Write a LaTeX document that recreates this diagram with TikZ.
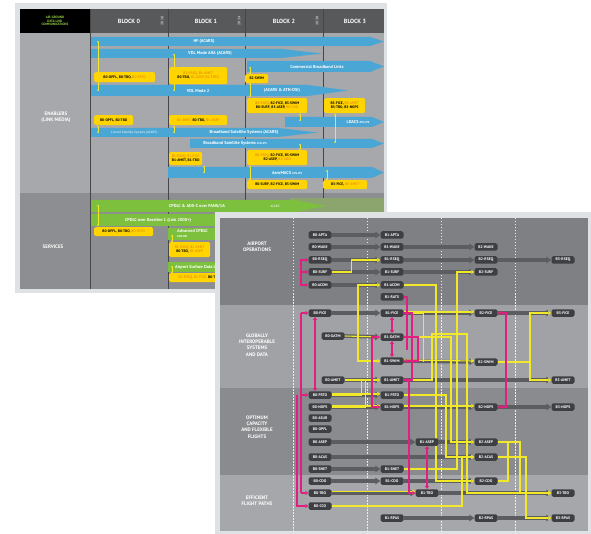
\documentclass[tikz,border=0pt]{standalone}
\usepackage{fontspec}
\setmainfont{PT Sans}
\usetikzlibrary{arrows.meta}
\pgfdeclarelayer{back}
\pgfdeclarelayer{mid}
\pgfdeclarelayer{lines}
\pgfsetlayers{back,mid,lines,main}
\definecolor{frameA}{RGB}{222,226,229}
\definecolor{enab}{RGB}{166,168,171}
\definecolor{serv}{RGB}{140,142,145}
\definecolor{hdr}{RGB}{88,89,91}
\definecolor{divc}{RGB}{70,70,72}
\definecolor{bblue}{RGB}{74,166,212}
\definecolor{bgreen}{RGB}{125,192,62}
\definecolor{fgreen}{RGB}{140,165,110}
\definecolor{ybox}{RGB}{255,212,0}
\definecolor{yorange}{RGB}{222,120,20}
\definecolor{rowA}{RGB}{126,128,131}
\definecolor{rowB}{RGB}{160,162,165}
\definecolor{rowC}{RGB}{137,139,142}
\definecolor{rowD}{RGB}{165,167,170}
\definecolor{ndc}{RGB}{62,63,66}
\definecolor{barc}{RGB}{92,93,96}
\definecolor{ylw}{RGB}{240,232,40}
\definecolor{mag}{RGB}{226,30,128}
\definecolor{hgreen}{RGB}{150,210,70}
\newcommand\myband[6]{\fill[#5] (#1,#2) -- ({#3-#6},#2) -- (#3,{(#2+#4)/2}) -- ({#3-#6},#4) -- (#1,#4) -- cycle;}
\newcommand\oc[1]{{\color{yorange}#1}}
\begin{document}
\begin{tikzpicture}[x=1pt,y=-1pt,
 bl/.style={text=white,font=\fontsize{4.3}{5}\selectfont\bfseries,inner sep=0pt},
 bls/.style={text=white,font=\fontsize{3.2}{4}\selectfont,inner sep=0pt},
 ybx/.style={fill=ybox,rounded corners=1.5pt,inner sep=1pt,font=\fontsize{3.6}{4.3}\selectfont,align=center,anchor=north west},
 hd/.style={text=white,font=\fontsize{6}{7}\selectfont\bfseries},
 rl/.style={text=white,font=\fontsize{5}{6.2}\selectfont\bfseries,align=center},
 nd/.style={fill=ndc,rounded corners=1.6pt,text=white,font=\fontsize{3.8}{4.2}\selectfont\bfseries,minimum width=23pt,minimum height=7.5pt,inner sep=0pt},
 gbar/.style={draw=barc,line width=3.6pt,-{Triangle[length=5pt,width=6.5pt]}},
 yl/.style={draw=ylw,line width=1.1pt,-{Triangle[length=3pt,width=4pt]}},
 ylB/.style={draw=ylw,line width=1.1pt,{Triangle[length=3pt,width=4pt]}-{Triangle[length=3pt,width=4pt]}},
 yl0/.style={draw=ylw,line width=1.1pt},
 mg/.style={draw=mag,line width=1.1pt},
 mgA/.style={mg,-{Triangle[length=3pt,width=4pt]}},
 mgB/.style={mg,{Triangle[length=3pt,width=4pt]}-{Triangle[length=3pt,width=4pt]}},
 tl/.style={draw=ylw,line width=0.6pt,{Circle[length=1.6pt]}-{Circle[length=1.6pt]}},
 dl/.style={draw=white!85!gray,line width=0.4pt,dash pattern=on 1.5pt off 1.5pt}]
\useasboundingbox (0,0) rectangle (591,534);
\begin{pgfonlayer}{back}
\fill[white] (0,0) rectangle (591,534);
% ---------- top panel ----------
\fill[frameA] (15,3) rectangle (387,293);
\fill[enab] (20,33) rectangle (384,193);
\fill[serv] (20,193) rectangle (384,289);
\fill[hdr] (90,9) rectangle (384,33);
\fill[black] (20,9) rectangle (90,33);
\foreach \x in {90,168,245,323}{\draw[divc,line width=0.8pt] (\x,9) -- (\x,289);}
\node[text=hgreen,font=\fontsize{3.3}{3.8}\selectfont\bfseries,align=center] (hcell) at (55,21) {AIR-GROUND\\DATA LINK\\COMMUNICATIONS};
\node[hd] (h0) at (129,21) {BLOCK 0};
\node[hd] (h1) at (206,21) {BLOCK 1};
\node[hd] (h2) at (284,21) {BLOCK 2};
\node[hd] (h3) at (355,21) {BLOCK 3};
\node[rotate=90,text=white!60!gray,font=\fontsize{3.6}{4}\selectfont\bfseries] (yr1) at (162,21) {2018};
\node[rotate=90,text=white!60!gray,font=\fontsize{3.6}{4}\selectfont\bfseries] (yr2) at (239,21) {2024};
\node[rotate=90,text=white!60!gray,font=\fontsize{3.6}{4}\selectfont\bfseries] (yr3) at (317,21) {2030};
\node[rl] (lenab) at (56,117) {ENABLERS\\(LINK MEDIA)};
\node[rl] (lserv) at (53,247) {SERVICES};
% blue bands
\myband{91}{37}{384}{46}{bblue}{14}
\myband{91}{49}{322}{58}{bblue}{40}
\myband{247}{61}{384}{72}{bblue}{14}
\myband{91}{85}{348}{96}{bblue}{40}
\myband{285}{117}{384}{127}{bblue}{12}
\myband{91}{128}{318}{137}{bblue}{40}
\myband{190}{139}{384}{148}{bblue}{12}
\myband{168}{167}{384}{178}{bblue}{12}
\node[bl] (t1) at (204,41.5) {HF (ACARS)};
\node[bl] (t2) at (210,53.5) {VDL Mode A0A (ACARS)};
\node[bl] (t3) at (317,66.5) {Commercial Broadband Links};
\node[bl] (t4) at (198,90.5) {VDL Mode 2};
\node[bl] (t5) at (282,90.5) {(ACARS \& ATN-OSI)};
\node[bl] (t6) at (358,122) {LDACS \fontsize{2.8}{3}\selectfont ATN-IPS};
\node[bls] (t7) at (134,132.5) {Current Satellite Systems (ACARS)};
\node[bl] (t8) at (244,132.5) {Broadband Satellite Systems (ACARS)};
\node[bl] (t9) at (235,143.5) {Broadband Satellite Systems \fontsize{2.8}{3}\selectfont ATN-IPS};
\node[bl] (t10) at (287,172.5) {AeroMACS \fontsize{2.8}{3}\selectfont ATN-IPS};
% green bands
\fill[fgreen] (290,198) -- (384,198) -- (384,215) -- (290,215) -- cycle;
\myband{91}{200}{325}{212}{bgreen}{30}
\myband{91}{214}{240}{226}{bgreen}{10}
\myband{168}{228}{240}{240}{bgreen}{10}
\myband{168}{262}{240}{272}{bgreen}{10}
\node[bl] (g1) at (197,206) {CPDLC \& ADS-C over FANS/1A};
\node[bls] (g1b) at (275,206) {ACARS};
\node[bl] (g2) at (158,220) {CPDLC over Baseline 1 (Link 2000+)};
\node[bl,anchor=north west,align=left] (g3) at (177,229.5) {Advanced CPDLC\\[-0.5pt]{\fontsize{2.8}{3}\selectfont ATN-OSI}};
\node[bl,anchor=west] (g4) at (175,267) {Airport Surface Data Links};
% small yellow links
\draw[tl] (98,41) -- (98,91);
\draw[tl] (174,54) -- (174,91);
\draw[tl] (250,67) -- (250,74);
\draw[tl] (250,83) -- (250,97);
\draw[tl] (98,126) -- (98,133);
\draw[tl] (174,126) -- (174,133);
\draw[tl] (300,114) -- (300,121);
\draw[tl] (335,114) -- (335,143);
\draw[tl] (300,144) -- (300,150);
\draw[tl] (204,166) -- (204,173);
\draw[tl] (250,166) -- (250,180);
\draw[tl] (327,170) -- (327,180);
\draw[tl] (98,205) -- (98,226);
\draw[tl] (172,235) -- (172,242);
\draw[tl] (172,266) -- (172,273);
% yellow boxes
\node[ybx,minimum width=61pt,minimum height=10pt] (ya) at (94,72) {\textbf{B0-OPFL, B0-TBO,} \oc{B0-FRTO}};
\node[ybx,minimum width=58pt,minimum height=17pt] (yb) at (169,67) {\oc{B1-RSEQ, B1-AMET}\\\textbf{B0-TBO,} \oc{B1-ASEP, B1-FRTO}};
\node[ybx,minimum width=23pt,minimum height=9pt] (yc) at (245,74) {\textbf{B2-SWIM}};
\node[ybx,minimum width=39pt,minimum height=10pt] (yd) at (94,115) {\textbf{B0-OPFL, B0-TBO}};
\node[ybx,minimum width=58pt,minimum height=10pt] (ye) at (169,115) {\oc{B1-AMET,} \textbf{B0-TBO,} \oc{B1-ASEP}};
\node[ybx,minimum width=60pt,minimum height=15pt] (yf) at (247,98) {\oc{B0-RSEQ,} \textbf{B2-FICE, B3-SWIM}\\\textbf{B0-SURF, B3-ASEP,} \oc{B0-CDO}};
\node[ybx,minimum width=41pt,minimum height=15pt] (yg) at (324,98) {\textbf{B3-FICE,} \oc{B3-AMET}\\\textbf{B3-TBO, B3-NOPS}};
\node[ybx,minimum width=33pt,minimum height=13pt] (yh) at (169,152) {\oc{B1-RSEQ, B1-FICE}\\\textbf{B1-AMET, B1-TBO}};
\node[ybx,minimum width=60pt,minimum height=15pt] (yi) at (247,150) {\oc{B0-RSEQ,} \textbf{B2-FICE, B3-SWIM}\\\textbf{B2-ASEP,} \oc{B3-CDO}};
\node[ybx,minimum width=60pt,minimum height=9pt] (yj) at (247,180) {\textbf{B0-SURF, B2-FICE, B3-SWIM}};
\node[ybx,minimum width=44pt,minimum height=9pt] (yk) at (323,180) {\textbf{B3-FICE,} \oc{B3-AMET}};
\node[ybx,minimum width=59pt,minimum height=9pt] (yl1) at (94,227) {\textbf{B0-OPFL, B0-TBO,} \oc{B0-FRTO}};
\node[ybx,minimum width=41pt,minimum height=15pt] (ym) at (169,242) {\oc{B1-RSEQ, B1-AMET}\\\textbf{B0-TBO,} \oc{B1-ASEP}};
\node[ybx,minimum width=60pt,minimum height=9pt] (yn) at (169,273) {\oc{B1-RSEQ, B1-FICE,} \textbf{B0-TBO}};
% ---------- bottom panel ----------
\fill[frameA] (215,212) rectangle (591,534);
\fill[rowA] (220,218) rectangle (588,305);
\fill[rowB] (220,305) rectangle (588,388);
\fill[rowC] (220,388) rectangle (588,475);
\fill[rowD] (220,475) rectangle (588,531);
\foreach \x in {293,367,441,515}{\draw[dl] (\x,218) -- (\x,531);}
\node[rl] (r1) at (257,247) {AIRPORT\\OPERATIONS};
\node[rl] (r2) at (257,345) {GLOBALLY\\INTEROPERABLE\\SYSTEMS\\AND DATA};
\node[rl] (r3) at (257,427) {OPTIMUM\\CAPACITY\\AND FLEXIBLE\\FLIGHTS};
\node[rl] (r4) at (257,501) {EFFICIENT\\FLIGHT PATHS};
\end{pgfonlayer}
% ---------- nodes ----------
\node[nd] (b0apta) at (320,235) {B0-APTA};
\node[nd] (b0wake) at (320,247) {B0-WAKE};
\node[nd] (b0rseq) at (320,260) {B0-RSEQ};
\node[nd] (b0surf) at (320,272) {B0-SURF};
\node[nd] (b0acdm) at (320,285) {B0-ACDM};
\node[nd] (b0fice) at (320,313) {B0-FICE};
\node[nd] (b0datm) at (333,336) {B0-DATM};
\node[nd] (b0amet) at (333,380) {B0-AMET};
\node[nd] (b0frto) at (320,395) {B0-FRTO};
\node[nd] (b0nops) at (320,407) {B0-NOPS};
\node[nd] (b0asur) at (320,418) {B0-ASUR};
\node[nd] (b0opfl) at (320,429) {B0-OPFL};
\node[nd] (b0asep) at (320,442) {B0-ASEP};
\node[nd] (b0acas) at (320,457) {B0-ACAS};
\node[nd] (b0snet) at (320,469) {B0-SNET};
\node[nd] (b0cdo) at (320,481) {B0-CDO};
\node[nd] (b0tbo) at (320,493) {B0-TBO};
\node[nd] (b0cco) at (320,506) {B0-CCO};
\node[nd] (b1apta) at (392,235) {B1-APTA};
\node[nd] (b1wake) at (392,247) {B1-WAKE};
\node[nd] (b1rseq) at (392,260) {B1-RSEQ};
\node[nd] (b1surf) at (392,272) {B1-SURF};
\node[nd] (b1acdm) at (392,285) {B1-ACDM};
\node[nd] (b1rats) at (392,297) {B1-RATS};
\node[nd] (b1fice) at (392,313) {B1-FICE};
\node[nd] (b1datm) at (392,337) {B1-DATM};
\node[nd] (b1swim) at (392,361) {B1-SWIM};
\node[nd] (b1amet) at (392,380) {B1-AMET};
\node[nd] (b1frto) at (392,395) {B1-FRTO};
\node[nd] (b1nops) at (392,407) {B1-NOPS};
\node[nd] (b1asep) at (427,442) {B1-ASEP};
\node[nd] (b1snet) at (392,469) {B1-SNET};
\node[nd] (b1cdo) at (392,481) {B1-CDO};
\node[nd] (b1tbo) at (427,493) {B1-TBO};
\node[nd] (b1rpas) at (392,518) {B1-RPAS};
\node[nd] (b2wake) at (486,247) {B2-WAKE};
\node[nd] (b2rseq) at (486,260) {B2-RSEQ};
\node[nd] (b2surf) at (486,272) {B2-SURF};
\node[nd] (b2fice) at (486,313) {B2-FICE};
\node[nd] (b2swim) at (486,362) {B2-SWIM};
\node[nd] (b2nops) at (486,407) {B2-NOPS};
\node[nd] (b2asep) at (486,442) {B2-ASEP};
\node[nd] (b2acas) at (486,457) {B2-ACAS};
\node[nd] (b2cdo) at (486,481) {B2-CDO};
\node[nd] (b2rpas) at (486,518) {B2-RPAS};
\node[nd] (b3rseq) at (563,260) {B3-RSEQ};
\node[nd] (b3fice) at (563,313) {B3-FICE};
\node[nd] (b3amet) at (563,380) {B3-AMET};
\node[nd] (b3nops) at (563,407) {B3-NOPS};
\node[nd] (b3tbo) at (563,493) {B3-TBO};
\node[nd] (b3rpas) at (563,518) {B3-RPAS};
% ---------- gray bars ----------
\begin{pgfonlayer}{mid}
\draw[gbar] (b0apta.east) -- (b1apta.west);
\draw[gbar] (b0wake.east) -- (b1wake.west);
\draw[gbar] (b1wake.east) -- (b2wake.west);
\draw[gbar] (b0rseq.east) -- (b1rseq.west);
\draw[gbar] (b1rseq.east) -- (b2rseq.west);
\draw[gbar] (b2rseq.east) -- (b3rseq.west);
\draw[gbar] (b0surf.east) -- (b1surf.west);
\draw[gbar] (b1surf.east) -- (b2surf.west);
\draw[gbar] (b0acdm.east) -- (b1acdm.west);
\draw[gbar] (b0fice.east) -- (b1fice.west);
\draw[gbar] (b1fice.east) -- (b2fice.west);
\draw[gbar] (b2fice.east) -- (b3fice.west);
\draw[gbar] (b0datm.east) -- (b1datm.west);
\draw[gbar] (b1swim.east) -- (b2swim.west);
\draw[gbar] (b0amet.east) -- (b1amet.west);
\draw[gbar] (b1amet.east) -- (b3amet.west);
\draw[gbar] (b0frto.east) -- (b1frto.west);
\draw[gbar] (b0nops.east) -- (b1nops.west);
\draw[gbar] (b1nops.east) -- (b2nops.west);
\draw[gbar] (b2nops.east) -- (b3nops.west);
\draw[gbar] (b0asep.east) -- (b1asep.west);
\draw[gbar] (b1asep.east) -- (b2asep.west);
\draw[gbar] (b0acas.east) -- (b2acas.west);
\draw[gbar] (b0snet.east) -- (b1snet.west);
\draw[gbar] (b0cdo.east) -- (b1cdo.west);
\draw[gbar] (b1cdo.east) -- (b2cdo.west);
\draw[gbar] (b0tbo.east) -- (b1tbo.west);
\draw[gbar] (b1tbo.east) -- (b3tbo.west);
\draw[gbar] (b1rpas.east) -- (b2rpas.west);
\draw[gbar] (b2rpas.east) -- (b3rpas.west);
\end{pgfonlayer}
% ---------- coloured connectors ----------
\begin{pgfonlayer}{lines}
% yellow
\draw[yl] (b0surf.east) -- ++(20,0) |- (b1rseq.west);
\draw[yl] (b1acdm.east) -| (436,481) -- (b2cdo.west);
\draw[ylB] (b1acdm.west) -| (358,330) |- (b1swim.west);
\draw[yl] (b0datm.east) -- (b1datm.west);
\draw[yl] (b0amet.east) -- (b1amet.west);
\draw[yl] ([yshift=1pt]b0frto.east) -- ([yshift=1pt]b1frto.west);
\draw[yl0] (b0frto.east) -- ++(30,0) -- ++(0,-15);
\draw[yl] ([yshift=1pt]b0nops.east) -- ([yshift=1pt]b1nops.west);
\draw[yl0] (b0nops.east) -- ++(34,0) -- ++(0,-27);
\draw[yl] (b1frto.east) -| (446,457) -- (b2acas.west);
\draw[yl] ([yshift=1pt]b1nops.east) -- ([yshift=1pt]b2nops.west);
\draw[yl] (b1snet.east) -| (457,300) |- (b2surf.west);
\draw[yl] ([yshift=1.5pt]b0tbo.east) -- ([yshift=1.5pt]b1tbo.west);
\draw[yl] (b0cco.east) -| (462,461) |- (b2acas.west);
\draw[yl] ([yshift=1pt]b1fice.east) -- ([yshift=1pt]b2fice.west);
\draw[yl0] (b1fice.east) -- ++(20,0) -- ++(0,49);
\draw[yl] ([yshift=1pt]b1swim.east) -- ([yshift=1pt]b2swim.west);
\draw[yl] (b1amet.east) -| (432,334) -| (467,486) |- (b3tbo.west);
\draw[yl] (b1datm.east) -| (451,442) -- (b2asep.west);
\draw[yl] (b2swim.east) -| (530,313) -- (b3fice.west);
\draw[yl] (b2swim.east) -| (530,380) -- (b3amet.west);
\draw[yl0] (b2asep.east) -| (508,481) -- (b2cdo.east);
\draw[yl] (b2asep.east) -| (520,493) -- (b3tbo.west);
\draw[yl] (b2acas.east) -| (526,518) -- (b3rpas.west);
% magenta
\coordinate (mb) at (301,272);
\draw[mgA] (mb) |- (b0rseq.west);
\draw[mgA] (mb) |- (b0acdm.west);
\draw[mgA] (mb) -- (b0surf.west);
\coordinate (m2top) at (301,313);
\coordinate (m2mid) at (301,395);
\coordinate (m2bot) at (301,493);
\draw[mg] (m2top) -- (m2bot);
\draw[mgA] (m2top) -- (b0fice.west);
\draw[mgA] (m2mid) -- (b0frto.west);
\draw[mgA] (m2bot) -- (b0tbo.west);
\coordinate (m3top) at (297,395);
\draw[mgA] (m3top) |- (b0cco.west);
\draw[mgB] ([xshift=-5pt]b0fice.south) -- ([xshift=-5pt]b0frto.north);
\draw[mgB] (b1fice.south) -- (b1datm.north);
\draw[mgB] (b1datm.south) -- (b1swim.north);
\draw[mgA] (b1fice.east) -| (412,380) -- (b1amet.east);
\draw[mgA] (b1datm.east) -| (418,361) -- (b1swim.east);
\draw[mg] (b1rats.east) -| (407,350);
\draw[mgB] (b1datm.west) -| (372,380) |- (b1nops.west);
\draw[mgA] (b1amet.east) -| (409,493) -- (b1tbo.west);
\draw[mgB] (b1asep.south) -- (b1tbo.north);
\draw[mgB] (b2fice.east) -| (506,407) -- (b2nops.east);
\end{pgfonlayer}
\end{tikzpicture}
\end{document}
